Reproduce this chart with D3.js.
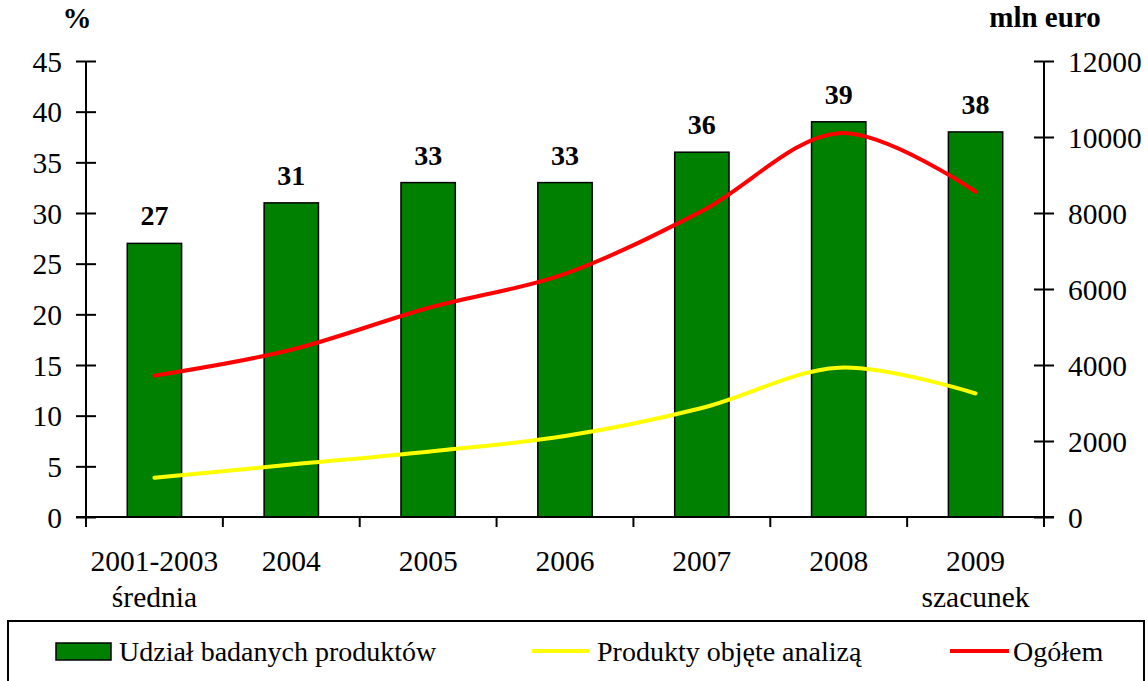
<!DOCTYPE html>
<html><head><meta charset="utf-8">
<script src="https://cdn.jsdelivr.net/npm/d3@7"></script>
<style>body{margin:0;background:#fff}</style>
</head><body><svg id="c" width="1148" height="681"></svg>
<script>
const categories = ["2001-2003|średnia","2004","2005","2006","2007","2008","2009|szacunek"];
const shareValues = [27,31,33,33,36,39,38];
const analyzedValues = [1030,1380,1720,2130,2870,3930,3250];
const totalValues = [3720,4400,5500,6400,8050,10100,8560];
const leftTicks = [0,5,10,15,20,25,30,35,40,45];
const rightTicks = [0,2000,4000,6000,8000,10000,12000];
const seriesNames = ["Udział badanych produktów","Produkty objęte analizą","Ogółem"];

const svg = d3.select("#c");
const L = 86, R = 1044, T = 61, B = 517;
const x = d3.scaleBand().domain(categories).range([L,R]).padding(0);
const yL = d3.scaleLinear().domain([0,45]).range([B,T]);
const yR = d3.scaleLinear().domain([0,12000]).range([B,T]);
const fsTick = 29.5, fsVal = 28, fsTitle = 29, fsLeg = 28;
const FF = '"Liberation Serif","Times New Roman",serif';

// bars
const bw = x.bandwidth()*0.397;
svg.append("g").selectAll("rect").data(categories).join("rect")
  .attr("x", d => x(d) + x.bandwidth()/2 - bw/2)
  .attr("y", (d,i) => yL(shareValues[i]))
  .attr("width", bw)
  .attr("height", (d,i) => B - yL(shareValues[i]))
  .attr("fill","#008000").attr("stroke","#000").attr("stroke-width",1.5);

// value labels
svg.append("g").selectAll("text").data(categories).join("text")
  .attr("x", d => x(d) + x.bandwidth()/2)
  .attr("y", (d,i) => yL(shareValues[i]) - 18)
  .attr("text-anchor","middle").attr("font-weight","bold").attr("font-size",fsVal)
  .text((d,i) => shareValues[i]);

// lines
const line = d3.line().x((d,i) => x(categories[i]) + x.bandwidth()/2).y(d => yR(d)).curve(d3.curveCatmullRom.alpha(0));
svg.append("path").attr("d", line(analyzedValues)).attr("fill","none").attr("stroke","#ffff00").attr("stroke-width",4).attr("stroke-linecap","round");
svg.append("path").attr("d", line(totalValues)).attr("fill","none").attr("stroke","#ff0000").attr("stroke-width",4).attr("stroke-linecap","round");

// left axis
const gl = svg.append("g").attr("transform",`translate(${L},0)`)
  .call(d3.axisLeft(yL).tickValues(leftTicks).tickSize(10).tickPadding(14));
gl.select(".domain").remove();
gl.append("line").attr("x1",0).attr("x2",0).attr("y1",T).attr("y2",B).attr("stroke","#000").attr("stroke-width",2);
gl.selectAll(".tick line").attr("x1",-10).attr("x2",10).attr("stroke","#000").attr("stroke-width",2);
gl.selectAll(".tick text").attr("font-size",fsTick).attr("fill","#000").attr("dy","0.35em");

// right axis
const gr = svg.append("g").attr("transform",`translate(${R},0)`)
  .call(d3.axisRight(yR).tickValues(rightTicks).tickFormat(d3.format("d")).tickSize(10).tickPadding(14));
gr.select(".domain").remove();
gr.append("line").attr("x1",0).attr("x2",0).attr("y1",T).attr("y2",B).attr("stroke","#000").attr("stroke-width",2);
gr.selectAll(".tick line").attr("x1",-10).attr("x2",10).attr("stroke","#000").attr("stroke-width",2);
gr.selectAll(".tick text").attr("font-size",fsTick).attr("fill","#000").attr("dy","0.35em");

// bottom axis
svg.append("line").attr("x1",L-10).attr("x2",R+10).attr("y1",B).attr("y2",B).attr("stroke","#000").attr("stroke-width",2);
const bounds = categories.map(d => x(d)).concat([R]);
svg.append("g").selectAll("line").data(bounds).join("line")
  .attr("x1",d=>d).attr("x2",d=>d).attr("y1",B).attr("y2",B+10).attr("stroke","#000").attr("stroke-width",2);
const ct = svg.append("g").selectAll("text").data(categories).join("text")
  .attr("x", d => x(d) + x.bandwidth()/2).attr("text-anchor","middle").attr("font-size",fsTick);
ct.each(function(d){
  const parts = d.split("|");
  const t = d3.select(this);
  parts.forEach((p,j) => t.append("tspan").attr("x", x(d)+x.bandwidth()/2).attr("y", 571 + j*36).text(p));
});

// axis titles
svg.append("text").attr("x",77).attr("y",28).attr("text-anchor","middle").attr("font-weight","bold").attr("font-size",fsTitle).text("%");
svg.append("text").attr("x",1045).attr("y",27).attr("text-anchor","middle").attr("font-weight","bold").attr("font-size",fsTitle).text("mln euro");

// legend
svg.append("rect").attr("x",8).attr("y",621).attr("width",1136).attr("height",70).attr("fill","#fff").attr("stroke","#000").attr("stroke-width",2);
const lg = svg.append("g");
lg.append("rect").attr("x",56).attr("y",643).attr("width",55).attr("height",17).attr("fill","#008000").attr("stroke","#000").attr("stroke-width",1.5);
lg.append("text").attr("x",119).attr("y",661).attr("font-size",fsLeg).text(seriesNames[0]);
lg.append("line").attr("x1",532).attr("x2",589).attr("y1",651).attr("y2",651).attr("stroke","#ffff00").attr("stroke-width",4);
lg.append("text").attr("x",597).attr("y",661).attr("font-size",fsLeg).text(seriesNames[1]);
lg.append("line").attr("x1",950).attr("x2",1009).attr("y1",651).attr("y2",651).attr("stroke","#ff0000").attr("stroke-width",4);
lg.append("text").attr("x",1013).attr("y",661).attr("font-size",fsLeg).text(seriesNames[2]);

svg.selectAll("text").style("font-family", FF);
</script></body></html>
